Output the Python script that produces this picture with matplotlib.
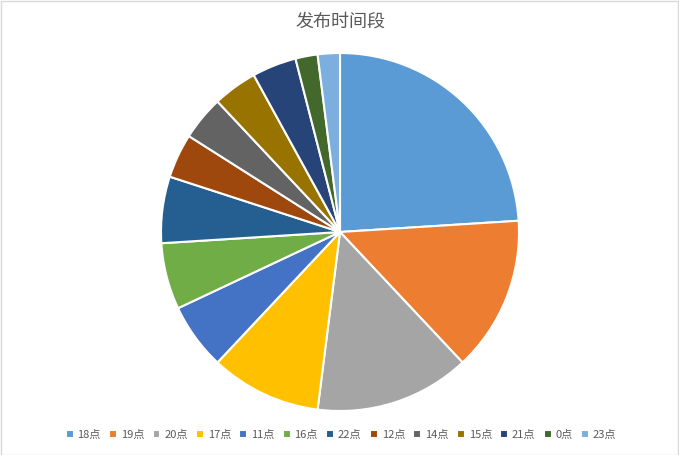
import matplotlib
matplotlib.use('Agg')
import matplotlib.pyplot as plt
from matplotlib.patches import Rectangle

plt.rcParams['font.family'] = ['Noto Sans CJK SC', 'DejaVu Sans']

labels = ['18点', '19点', '20点', '17点', '11点', '16点', '22点',
          '12点', '14点', '15点', '21点', '0点', '23点']
counts = [12, 7, 7, 5, 3, 3, 3, 2, 2, 2, 2, 1, 1]
colors = ['#5B9BD5', '#ED7D31', '#A5A5A5', '#FFC000', '#4472C4', '#70AD47',
          '#255E91', '#9E480E', '#636363', '#997300', '#264478', '#43682B',
          '#7CAFDD']

W, H = 679, 455
fig = plt.figure(figsize=(W / 100, H / 100), dpi=100)
fig.patch.set_facecolor('white')

cx, cy, r = 340, 232, 179
ax = fig.add_axes([(cx - r) / W, 1 - (cy + r) / H, 2 * r / W, 2 * r / H])
wedges, _ = ax.pie(counts, colors=colors, startangle=90, counterclock=False,
                   wedgeprops=dict(edgecolor='white', linewidth=1.5))
ax.set_xlim(-1, 1)
ax.set_ylim(-1, 1)
ax.set_aspect('auto')
ax.axis('off')

fig.text(cx / W, 1 - 22 / H, '发布时间段', ha='center', va='center',
         fontsize=13, color='#595959')

fig.legend(wedges, labels, loc='center', bbox_to_anchor=(341 / W, 1 - 435 / H),
           ncol=len(labels), frameon=False, fontsize=8, labelcolor='#595959',
           handlelength=0.7, handleheight=0.7, handletextpad=0.35,
           columnspacing=0.75)

fig.patches.append(Rectangle((0.5 / W, 0.5 / H), 1 - 1.5 / W, 1 - 1.5 / H,
                             transform=fig.transFigure, fill=False,
                             edgecolor='#D9D9D9', linewidth=1))

fig.savefig('out.png', dpi=100)
